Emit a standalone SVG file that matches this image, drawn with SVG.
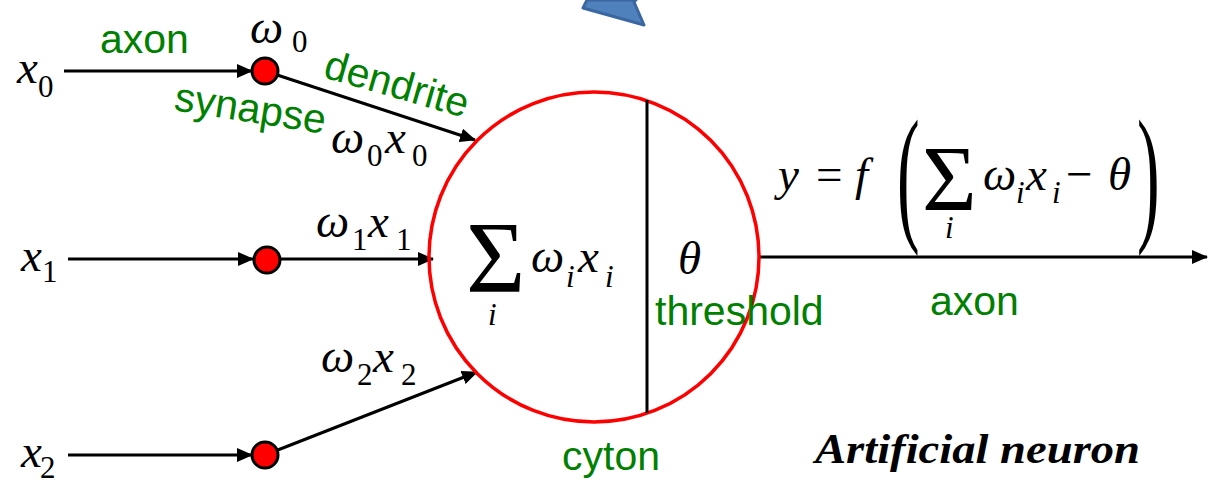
<svg xmlns="http://www.w3.org/2000/svg" width="1211" height="483" viewBox="0 0 1211 483">
<style>
.m{font-family:'Liberation Serif','Times New Roman',serif;font-style:italic;font-size:47px;fill:#000}
.sub{font-style:normal;font-size:31px}
.si{font-size:31px}
.up{font-style:normal}
.g{font-family:'Liberation Sans',Arial,sans-serif;font-size:41px;fill:#008000}
.ln{stroke:#000;stroke-width:3;fill:none}
.syn{fill:#ff0000;stroke:#000;stroke-width:3}
</style>
<defs>
<marker id="ah" markerUnits="userSpaceOnUse" markerWidth="16" markerHeight="14" refX="15" refY="7" orient="auto" viewBox="0 0 16 14">
<path d="M0,0 L16,7 L0,14 z" fill="#000"/>
</marker>
</defs>
<rect width="1211" height="483" fill="#fff"/>
<polygon points="587,0 583,8 644,25 634,2 636,0" fill="#4F81BD" stroke="#3A67A0" stroke-width="3" stroke-linejoin="round"/>
<g id="connectors">
<line class="ln" x1="64" y1="71" x2="252" y2="71" marker-end="url(#ah)"/>
<line class="ln" x1="68" y1="259" x2="253" y2="259" marker-end="url(#ah)"/>
<line class="ln" x1="68" y1="455" x2="252" y2="455" marker-end="url(#ah)"/>
<line class="ln" x1="265" y1="71" x2="475" y2="140" marker-end="url(#ah)"/>
<line class="ln" x1="267" y1="259" x2="433" y2="259" marker-end="url(#ah)"/>
<line class="ln" x1="265" y1="455" x2="477" y2="372" marker-end="url(#ah)"/>
<line class="ln" x1="760" y1="257" x2="1207" y2="257" marker-end="url(#ah)"/>
</g>
<g id="neuron">
<circle cx="594" cy="257" r="165" fill="none" stroke="#ff0000" stroke-width="3.5"/>
<line class="ln" x1="647" y1="100" x2="647" y2="413"/>
<text class="m up" x="466" y="292" style="font-size:102px">Σ</text>
<text class="m si" x="488" y="325">i</text>
<text class="m"><tspan x="531" y="272">ω</tspan><tspan class="si" x="566" y="287">i</tspan><tspan x="578" y="272">x</tspan><tspan class="si" x="605" y="287">i</tspan></text>
<text class="m" x="678" y="274">θ</text>
<text class="g" x="655" y="325">threshold</text>
<text class="g" x="562" y="470">cyton</text>
</g>
<g id="syn0"><circle class="syn" cx="265" cy="71" r="13"/></g>
<g id="syn1"><circle class="syn" cx="267" cy="260" r="13"/></g>
<g id="syn2"><circle class="syn" cx="265" cy="455" r="13"/></g>
<g id="inputs">
<text class="m"><tspan x="17" y="83">x</tspan><tspan class="sub" x="38" y="97">0</tspan></text>
<text class="m"><tspan x="21" y="271">x</tspan><tspan class="sub" x="42" y="282">1</tspan></text>
<text class="m"><tspan x="21" y="467">x</tspan><tspan class="sub" x="40" y="478">2</tspan></text>
</g>
<g id="labels">
<text class="g" x="100" y="53">axon</text>
<text class="m"><tspan x="250" y="43">ω</tspan><tspan class="sub" x="292" y="52">0</tspan></text>
<text class="g" transform="translate(322,77) rotate(16)">dendrite</text>
<text class="g" transform="translate(173,110) rotate(9)">synapse</text>
<text class="m"><tspan x="331" y="153">ω</tspan><tspan class="sub" x="367" y="166">0</tspan><tspan x="385" y="153">x</tspan><tspan class="sub" x="412" y="166">0</tspan></text>
<text class="m"><tspan x="316" y="237">ω</tspan><tspan class="sub" x="352" y="250">1</tspan><tspan x="368" y="237">x</tspan><tspan class="sub" x="396" y="250">1</tspan></text>
<text class="m"><tspan x="321" y="372">ω</tspan><tspan class="sub" x="357" y="385">2</tspan><tspan x="373" y="372">x</tspan><tspan class="sub" x="401" y="385">2</tspan></text>
</g>
<g id="output">
<text class="m"><tspan x="778" y="190">y</tspan><tspan class="up" x="816" y="190">=</tspan><tspan x="855" y="190">f</tspan></text>
<text class="m up" style="font-size:68px" transform="translate(897,0) scale(1,2.2)" x="0" y="102">(</text>
<text class="m up" x="922" y="210" style="font-size:94px">Σ</text>
<text class="m si" x="945" y="238">i</text>
<text class="m"><tspan x="983" y="190">ω</tspan><tspan class="si" x="1016" y="203">i</tspan><tspan x="1026" y="190">x</tspan><tspan class="si" x="1052" y="203">i</tspan><tspan class="up" x="1066" y="190">−</tspan><tspan x="1108" y="190">θ</tspan></text>
<text class="m up" style="font-size:68px" transform="translate(1137,0) scale(1,2.2)" x="0" y="102">)</text>
<text class="g" x="930" y="315">axon</text>
</g>
<text x="815" y="463" font-family="'Liberation Serif',serif" font-style="italic" font-weight="bold" font-size="42" textLength="325" lengthAdjust="spacingAndGlyphs">Artificial neuron</text>
</svg>
